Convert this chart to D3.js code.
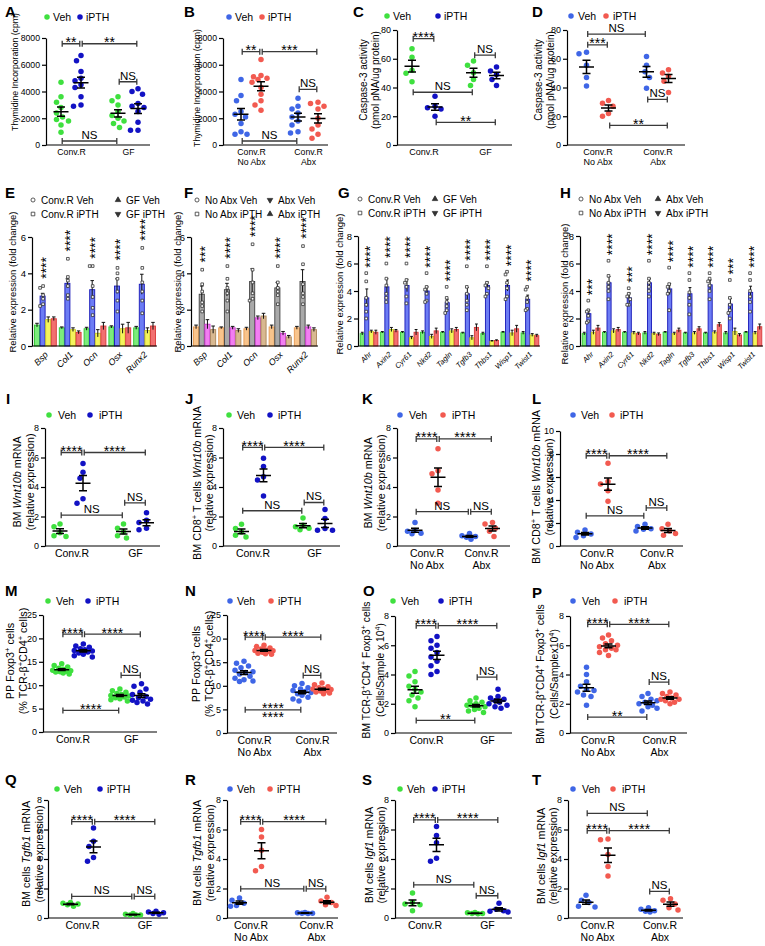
<!DOCTYPE html>
<html>
<head>
<meta charset="utf-8">
<script src="https://cdn.jsdelivr.net/npm/d3@7"></script>
<style>
  body { margin: 0; background: #fff; }
  svg text { font-family: "Liberation Sans", Arial, sans-serif; }
</style>
</head>
<body>
<svg id="fig" width="765" height="946"></svg>
<script>
const svg = d3.select("#fig");
const FONT = "'Liberation Sans', Arial, sans-serif";

const GREEN = "#3fe03f", NAVY = "#1212c4", BLUE = "#3f66e6", RED = "#f25a50";

const grpGF = ["Conv.R", "GF"];
const grpAbx = [["Conv.R", "No Abx"], ["Conv.R", "Abx"]];

// ---- dot plots: [Veh grp1, iPTH grp1, Veh grp2, iPTH grp2]
const A_vals = [
  [4700, 3600, 3200, 2800, 2400, 2100, 1900, 1800, 1500, 950],
  [6700, 6300, 5500, 5000, 4800, 4500, 4300, 3600, 3000, 2900],
  [3600, 3300, 3000, 2500, 2200, 2000, 1800, 1600, 1300],
  [4200, 4000, 3800, 3100, 2900, 2800, 2500, 1700, 1100, 1100]
];
const B_vals = [
  [4900, 3700, 3300, 2500, 2300, 2100, 1600, 1000, 800, 800],
  [6400, 5200, 5100, 5000, 4900, 4700, 4300, 3800, 3300, 3000, 2600],
  [3500, 2900, 2700, 2400, 2100, 1800, 1500, 1000, 900],
  [3200, 3100, 2900, 2700, 2000, 1500, 1200, 800, 500]
];
const C_vals = [[67, 61, 52, 50, 44], [34, 27, 26, 25, 20], [58.4, 55.4, 50.3, 45.6, 41.4], [54.2, 51.4, 49, 45.6, 41.4]];
const D_vals = [[64.5, 63.5, 55.5, 47, 41], [31, 29, 27, 22, 20], [61.5, 55.5, 51, 47, 39.5], [52.4, 50.1, 47.8, 44.4, 36.6]];
const I_vals = [[1.5, 1.3, 0.9, 0.7, 0.65], [5.6, 5.0, 4.6, 3.2, 2.9], [1.5, 1.2, 0.95, 0.7, 0.55], [2.25, 1.75, 1.6, 1.2, 1.1]];
const J_vals = [[1.48, 1.18, 0.95, 0.73, 0.61], [5.95, 5.39, 4.7, 4.48, 3.39], [1.9, 1.4, 1.3, 1.2, 1.1], [2.48, 1.86, 1.18, 1.07, 1.07]];
const K_vals = [[1.6, 1.05, 1.0, 0.87, 0.83], [6.6, 5.1, 4.9, 3.8, 2.9], [0.85, 0.7, 0.65, 0.6, 0.45], [1.6, 1.5, 1.2, 1.0, 0.65]];
const L_vals = [[1.4, 1.2, 1.05, 0.9, 0.75], [7.2, 5.6, 5.4, 4.8, 3.9], [1.9, 1.7, 1.5, 1.45, 1.3], [1.89, 1.51, 1.31, 1.08, 0.93]];
const M_vals = [
  [14.6, 14.2, 13.9, 13.6, 13.4, 13.2, 13.1, 13.0, 12.9, 12.8, 12.6, 12.4],
  [18.8, 18.4, 18.1, 17.8, 17.6, 17.4, 17.3, 17.1, 16.9, 16.6, 16.3, 16.0],
  [9.2, 8.8, 8.5, 8.2, 8.0, 7.8, 7.7, 7.5, 7.3, 7.1, 6.9, 6.6],
  [10.3, 9.8, 9.2, 8.5, 8.0, 7.6, 7.3, 7.0, 6.8, 6.6, 6.3, 6.0]
];
const N_vals = [
  [15.2, 14.8, 14.2, 13.8, 13.3, 13.0, 12.8, 12.5, 12.0, 11.6, 11.3, 11.0, 10.9],
  [18.6, 18.3, 18.0, 17.8, 17.6, 17.5, 17.4, 17.3, 17.1, 16.9, 16.8, 16.7],
  [10.5, 10.0, 9.6, 9.3, 9.0, 8.8, 8.6, 8.3, 8.0, 7.6, 7.2, 6.8],
  [10.6, 10.2, 9.8, 9.6, 9.4, 9.3, 9.2, 9.0, 8.9, 8.7, 8.5, 8.3]
];
const O_vals = [
  [4.2, 3.9, 3.5, 3.2, 3.0, 2.8, 2.6, 2.4, 2.2, 1.8],
  [6.6, 6.3, 6.0, 5.8, 5.5, 5.2, 4.9, 4.6, 4.2, 4.0],
  [2.4, 2.2, 2.1, 2.0, 1.9, 1.8, 1.7, 1.6, 1.5, 1.4, 1.9],
  [3.0, 2.5, 2.4, 2.3, 2.2, 2.1, 2.0, 1.9, 1.8, 1.7]
];
const P_vals = [
  [4.5, 4.0, 3.5, 3.2, 3.0, 2.9, 2.8, 2.6, 2.5, 1.9],
  [6.7, 6.5, 6.3, 6.1, 6.0, 5.9, 5.8, 5.7, 5.5, 5.3, 5.7],
  [2.7, 2.5, 2.3, 2.2, 2.1, 2.0, 1.9, 1.8, 1.7, 1.5],
  [2.8, 2.7, 2.6, 2.5, 2.4, 2.3, 2.3, 2.2, 2.1, 2.0]
];
const Q_vals = [[1.05, 1.0, 0.95, 0.9, 0.8], [6.1, 5.2, 4.85, 4.1, 3.85], [0.3, 0.25, 0.2, 0.2, 0.2], [0.45, 0.4, 0.35, 0.3, 0.25]];
const R_vals = [[1.35, 1.2, 1.0, 0.85, 0.8], [6.0, 5.5, 4.6, 3.5, 3.2], [0.38, 0.35, 0.33, 0.32, 0.3], [1.4, 1.15, 1.05, 0.9, 0.85]];
const S_vals = [[1.7, 1.05, 0.95, 0.9, 0.5], [6.2, 5.6, 5.1, 4.05, 3.85], [0.38, 0.35, 0.3, 0.3, 0.28], [1.0, 0.6, 0.5, 0.45, 0.4]];
const T_vals = [[1.55, 1.2, 1.05, 0.8, 0.75], [5.35, 5.3, 4.3, 3.5, 2.85], [0.7, 0.6, 0.5, 0.45, 0.4], [1.3, 1.2, 0.95, 0.7, 0.55]];

// significance brackets: [from group, to group, value, label, label below]
const A_sig = [[0, 1, 7570, "**"], [1, 3, 7570, "**"], [2, 3, 4730, "NS"], [0, 2, 300, "NS"]];
const B_sig = [[0, 1, 6975, "**"], [1, 3, 6975, "***"], [2, 3, 4160, "NS"], [0, 2, 300, "NS"]];
const C_sig = [[0, 1, 74, "****"], [2, 3, 62.5, "NS"], [0, 2, 36.7, "NS"], [1, 3, 15.8, "**"]];
const D_sig = [[0, 2, 77.2, "NS"], [0, 1, 69.7, "***"], [2, 3, 31.7, "NS"], [1, 3, 13.6, "**"]];
const I_sig = [[0, 1, 6.34, "****"], [1, 3, 6.34, "****"], [0, 2, 2.09, "NS"], [2, 3, 2.93, "NS"]];
const J_sig = [[0, 1, 6.68, "****"], [1, 3, 6.68, "****"], [0, 2, 2.39, "NS"], [2, 3, 2.95, "NS"]];
const K_sig = [[0, 1, 7.26, "****"], [1, 3, 7.26, "****"], [0, 2, 2.33, "NS"], [2, 3, 2.33, "NS"]];
const L_sig = [[0, 1, 7.85, "****"], [1, 3, 7.85, "****"], [0, 2, 2.62, "NS"], [2, 3, 3.31, "NS"]];
const M_sig = [[0, 1, 20.9, "****"], [1, 3, 20.9, "****"], [2, 3, 12.1, "NS"], [0, 2, 4.6, "****"]];
const N_sig = [[0, 1, 20.3, "****"], [1, 3, 20.3, "****"], [2, 3, 12.2, "NS"], [0, 2, 4.9, "****", "****"]];
const O_sig = [[0, 1, 7.34, "****"], [1, 3, 7.34, "****"], [2, 3, 3.82, "NS"], [0, 2, 0.86, "**"]];
const P_sig = [[0, 1, 7.43, "****"], [1, 3, 7.43, "****"], [2, 3, 3.48, "NS"], [0, 2, 1.09, "**"]];
const Q_sig = [[0, 1, 6.53, "****"], [1, 3, 6.53, "****"], [0, 2, 1.46, "NS"], [2, 3, 1.46, "NS"]];
const R_sig = [[0, 1, 6.53, "****"], [1, 3, 6.53, "****"], [0, 2, 1.98, "NS"], [2, 3, 1.98, "NS"]];
const S_sig = [[0, 1, 6.65, "****"], [1, 3, 6.65, "****"], [0, 2, 2.25, "NS"], [2, 3, 1.51, "NS"]];
const T_sig = [[0, 2, 7.1, "NS"], [0, 1, 5.92, "****"], [1, 3, 5.92, "****"], [2, 3, 1.8, "NS"]];

const ticksCpm = [0, 2000, 4000, 6000, 8000];
const ticks80 = [0, 20, 40, 60, 80];
const ticks8 = [0, 2, 4, 6, 8];
const ticks10 = [0, 2, 4, 6, 8, 10];
const ticks25 = [0, 5, 10, 15, 20, 25];

// ---- bar charts (E-H): per gene [grp1 Veh, grp1 iPTH, grp2 Veh, grp2 iPTH]
const boneGenes = ["Bsp", "Col1", "Ocn", "Osx", "Runx2"];
const wntGenes = ["Ahr", "Axin2", "Cyr61", "Nkd2", "Tagln", "Tgfb3", "Thbs1", "Wisp1", "Twist1"];

const E_mean = [[1.15, 2.75, 1.45, 1.5], [1.0, 3.45, 0.9, 0.75], [0.95, 3.1, 0.7, 1.1], [1.05, 3.3, 0.95, 1.0], [1.0, 3.4, 0.85, 1.1]];
const E_sem = [[0.1, 0.15, 0.15, 0.1], [0.05, 0.25, 0.1, 0.08], [0.08, 0.5, 0.2, 0.2], [0.06, 0.4, 0.25, 0.3], [0.08, 0.55, 0.15, 0.2]];
const E_pts = [[3.3, 3.2, 2.8, 2.6, 2.3, 2.2], [4.8, 3.8, 3.6, 3.3, 2.8, 2.6], [4.4, 4.4, 3.3, 2.7, 2.1, 1.7], [4.3, 4.0, 3.7, 3.0, 2.5, 1.9], [5.4, 4.3, 3.5, 3.0, 2.5, 1.8]];
const E_star = ["****", "****", "****", "****", "****"];

const F_mean = [[1.05, 2.85, 1.2, 0.9], [1.0, 3.1, 1.0, 0.85], [0.95, 3.55, 1.55, 1.65], [1.05, 3.2, 0.7, 0.5], [1.0, 3.55, 1.05, 0.9]];
const F_sem = [[0.1, 0.45, 0.25, 0.2], [0.05, 0.35, 0.08, 0.1], [0.08, 0.7, 0.1, 0.15], [0.1, 0.3, 0.1, 0.08], [0.08, 0.65, 0.1, 0.1]];
const F_pts = [[4.2, 3.4, 3.0, 2.4, 2.2, 1.9], [4.4, 3.7, 3.2, 2.9, 2.5, 1.9], [5.6, 4.2, 3.5, 2.9, 2.5, 2.6], [4.4, 3.5, 3.2, 3.0, 2.8, 2.3], [5.5, 4.5, 3.4, 2.9, 2.3, 2.7]];
const F_star = ["***", "****", "****", "****", "****"];

const G_mean = [[0.9, 3.5, 1.05, 1.0], [1.0, 4.3, 1.2, 1.1], [1.0, 4.4, 0.6, 1.0], [1.0, 4.0, 0.7, 1.1], [1.0, 3.15, 1.1, 1.2], [0.95, 3.8, 0.6, 1.35], [0.9, 4.4, 0.35, 0.4], [1.0, 4.4, 0.95, 1.25], [0.95, 3.4, 0.8, 0.75]];
const G_sem = [[0.1, 0.65, 0.1, 0.15], [0.05, 0.6, 0.15, 0.1], [0.05, 0.45, 0.1, 0.2], [0.1, 0.3, 0.15, 0.2], [0.05, 0.25, 0.15, 0.15], [0.05, 0.45, 0.15, 0.25], [0.1, 0.25, 0.05, 0.05], [0.05, 0.4, 0.2, 0.25], [0.1, 0.3, 0.1, 0.1]];
const G_pts = [[5.3, 4.7, 3.5, 3.0, 2.5, 2.0], [6.0, 4.9, 4.4, 3.8, 3.5, 3.2], [6.0, 4.8, 4.6, 4.3, 3.6, 3.1], [5.3, 4.3, 4.1, 3.8, 3.3, 3.2], [4.3, 3.5, 3.2, 2.9, 2.6, 2.4], [5.8, 4.3, 3.8, 3.3, 3.0, 2.6], [5.8, 4.6, 4.4, 4.2, 3.8, 3.6], [5.4, 5.2, 4.6, 4.2, 3.6, 3.4], [4.3, 4.1, 3.5, 3.2, 2.6, 2.7]];
const G_star = ["****", "****", "****", "****", "****", "****", "****", "****", "****"];

const H_mean = [[0.9, 2.35, 1.0, 1.3], [1.0, 4.6, 1.1, 1.2], [1.0, 3.5, 0.95, 0.9], [0.95, 4.6, 0.9, 0.85], [1.0, 4.15, 0.9, 1.15], [0.95, 3.8, 0.95, 1.25], [0.95, 4.45, 1.0, 1.55], [0.95, 3.05, 1.05, 0.8], [1.0, 3.9, 0.95, 1.4]];
const H_sem = [[0.1, 0.25, 0.15, 0.2], [0.05, 0.45, 0.15, 0.15], [0.05, 0.35, 0.1, 0.1], [0.1, 0.3, 0.1, 0.1], [0.05, 0.4, 0.1, 0.15], [0.05, 0.45, 0.1, 0.15], [0.05, 0.35, 0.1, 0.15], [0.1, 0.4, 0.25, 0.1], [0.05, 0.45, 0.1, 0.2]];
const H_pts = [[3.3, 2.6, 2.5, 2.2, 1.8, 1.7], [6.2, 5.1, 4.6, 4.3, 4.0, 3.4], [4.2, 3.8, 3.6, 3.4, 3.0, 3.0], [6.2, 4.9, 4.6, 4.3, 4.0, 3.6], [5.7, 4.5, 4.3, 4.0, 3.8, 2.6], [5.3, 4.8, 3.9, 3.5, 3.0, 2.3], [5.3, 4.9, 4.7, 4.4, 4.0, 3.4], [4.8, 3.5, 3.0, 2.6, 2.4, 2.0], [5.3, 4.8, 4.0, 3.6, 3.2, 2.5]];
const H_star = ["***", "****", "***", "****", "****", "****", "****", "***", "****"];

const barFillA = ["#7cec7c", "#6c7cf4", "#f4f45c", "#f27070"];
const barLineA = ["#2fc82f", "#1818b8", "#c8c820", "#d83838"];
const barFillB = ["#f8c48c", "#a9a9a9", "#f27ef2", "#d8b890"];
const barLineB = ["#e89a50", "#404040", "#c838c8", "#a88458"];

// ---- helpers
function richText(sel, str) {
  str.split(/(<i>.*?<\/i>|<sup>.*?<\/sup>)/).forEach(part => {
    if (!part) return;
    if (part.startsWith("<i>")) sel.append("tspan").attr("font-style", "italic").text(part.slice(3, -4));
    else if (part.startsWith("<sup>")) sel.append("tspan").attr("baseline-shift", "super").attr("font-size", "70%").text(part.slice(5, -6));
    else sel.append("tspan").text(part);
  });
}

function yTitle(g, lines, xs, cy, fs) {
  lines.forEach((ln, i) => {
    const t = g.append("text")
      .attr("transform", `translate(${xs[i]},${cy}) rotate(-90)`)
      .attr("text-anchor", "middle")
      .attr("dy", "0.35em")
      .attr("font-size", fs);
    richText(t, ln);
  });
}

function styleAxis(ax, fs) {
  ax.attr("font-family", FONT).attr("font-size", fs);
  ax.selectAll("path, line").attr("stroke", "#000").attr("stroke-width", 1.2);
  ax.selectAll("text").attr("fill", "#000");
}

// spread points sideways (capped at maxDx) so close values do not pile up
function swarm(vals, y, cx, maxDx, minD) {
  const placed = [];
  const cands = d3.range(-maxDx, maxDx + 0.01, 1.5).sort((a, b) => Math.abs(a) - Math.abs(b));
  vals.map(v => ({ v, y: y(v) })).sort((a, b) => a.y - b.y).forEach(p => {
    let best = 0, bestD = -1;
    for (const dx of cands) {
      const d = placed.length ? d3.min(placed, q => Math.hypot(q.x - cx - dx, q.y - p.y)) : Infinity;
      if (d >= minD) { best = dx; break; }
      if (d > bestD) { bestD = d; best = dx; }
    }
    p.x = cx + best;
    placed.push(p);
  });
  return placed;
}

function sigText(g, x, yy, lab, below) {
  const star = lab[0] === "*";
  g.append("text")
    .attr("x", x)
    .attr("y", star ? (below ? yy + 12.5 : yy + 3.5) : yy - 2)
    .attr("text-anchor", "middle")
    .attr("font-size", star ? 14 : 11.5)
    .text(lab);
}

function dotPanel(p) {
  const g = svg.append("g");
  const y = d3.scaleLinear().domain(p.dom).range([p.yb, p.yt]);
  const xc = d3.scalePoint().domain([0, 1]).range([p.c0, p.c1]);
  const xo = d3.scalePoint().domain([0, 1]).range([-p.off, p.off]);
  const gx = i => xc(i >> 1) + xo(i & 1);
  const r = 2.75;

  const ya = g.append("g").attr("transform", `translate(${p.x0},0)`)
    .call(d3.axisLeft(y).tickValues(p.ticks).tickFormat(d3.format("d")).tickSize(4).tickSizeOuter(0).tickPadding(2));
  styleAxis(ya, p.fs);

  g.append("line").attr("x1", p.x0).attr("x2", p.xEnd).attr("y1", p.yb).attr("y2", p.yb)
    .attr("stroke", "#000").attr("stroke-width", 1.2);

  const xa = g.append("g").attr("transform", `translate(0,${p.yb})`)
    .call(d3.axisBottom(xc).tickSize(0).tickPadding(4).tickFormat(() => ""));
  xa.select(".domain").remove();
  styleAxis(xa, p.lfs);
  xa.selectAll(".tick text").each(function (i) {
    const t = d3.select(this);
    [].concat(p.groups[i]).forEach((s, k) => t.append("tspan").attr("x", 0).attr("dy", k ? "1.12em" : "0.71em").text(s));
  });

  yTitle(g, p.title, p.tx, p.ty, p.tfs);

  p.vals.forEach((v, i) => {
    const col = p.cols[i & 1];
    g.append("g").selectAll("circle")
      .data(swarm(v, y, gx(i), 9, 6.5))
      .join("circle")
      .attr("cx", d => d.x).attr("cy", d => d.y).attr("r", r).attr("fill", col);
    const m = d3.mean(v), se = d3.deviation(v) / Math.sqrt(v.length);
    const cx = gx(i);
    g.append("path")
      .attr("d", `M${cx - 7.5},${y(m)}h15M${cx},${y(m - se)}V${y(m + se)}M${cx - 4},${y(m - se)}h8M${cx - 4},${y(m + se)}h8`)
      .attr("stroke", "#000").attr("stroke-width", 1.5).attr("fill", "none");
  });

  p.sig.forEach(([a, b, v, lab, lab2]) => {
    const xa0 = gx(a) + 1.2, xb0 = gx(b) - 1.2, yy = y(v);
    g.append("path")
      .attr("d", `M${xa0},${yy}H${xb0}M${xa0},${yy - 3}v6M${xb0},${yy - 3}v6`)
      .attr("stroke", "#3a3a3a").attr("stroke-width", 1.3).attr("fill", "none");
    sigText(g, (xa0 + xb0) / 2, yy, lab, false);
    if (lab2) sigText(g, (xa0 + xb0) / 2, yy, lab2, true);
  });

  ["Veh", "iPTH"].forEach((s, j) => {
    g.append("circle").attr("cx", p.leg[j]).attr("cy", p.leg[2]).attr("r", r).attr("fill", p.cols[j]);
    g.append("text").attr("x", p.leg[j] + p.lgap).attr("y", p.leg[2]).attr("dy", "0.35em")
      .attr("font-size", 10.5).text(s);
  });
}

const symType = { circle: d3.symbolCircle, square: d3.symbolSquare, tri: d3.symbolTriangle, tridown: d3.symbolTriangle };

function marker(g, kind, x, y, size) {
  g.append("path")
    .attr("d", d3.symbol().type(symType[kind]).size(size)())
    .attr("transform", `translate(${x},${y})${kind === "tridown" ? " rotate(180)" : ""}`)
    .attr("fill", kind === "circle" || kind === "square" ? "#fff" : "#333")
    .attr("stroke", "#333").attr("stroke-width", 0.8);
}

function barPanel(p) {
  const g = svg.append("g");
  const y = d3.scaleLinear().domain([0, p.max]).range([p.yb, p.yt]);
  const xg = d3.scaleBand().domain(p.genes).range([p.x0 + 1, p.xEnd]).paddingInner(0.12).paddingOuter(0.06);
  const xs = d3.scaleBand().domain([0, 1, 2, 3]).range([0, xg.bandwidth()]).paddingInner(0.1);
  const bw = xs.bandwidth();

  const ya = g.append("g").attr("transform", `translate(${p.x0},0)`)
    .call(d3.axisLeft(y).tickValues(p.ticks).tickFormat(d3.format("d")).tickSize(4).tickSizeOuter(0).tickPadding(2));
  styleAxis(ya, 9.5);

  yTitle(g, ["Relative expression (fold change)"], [p.tx], p.ty, 9.5);

  p.genes.forEach((gene, gi) => {
    p.mean[gi].forEach((m, k) => {
      const bx = xg(gene) + xs(k), se = p.sem[gi][k];
      g.append("rect").attr("x", bx).attr("y", y(m)).attr("width", bw).attr("height", p.yb - y(m))
        .attr("fill", p.fill[k]).attr("stroke", p.line[k]).attr("stroke-width", 0.9);
      g.append("path")
        .attr("d", `M${bx + bw / 2},${y(m - se)}V${y(m + se)}M${bx + bw * 0.15},${y(m + se)}H${bx + bw * 0.85}`)
        .attr("stroke", "#111").attr("stroke-width", 1);
    });
    const cx = xg(gene) + xs(1) + bw / 2;
    swarm(p.pts[gi], y, cx, bw / 2, 3.2).forEach(d => marker(g, "square", d.x, d.y, 7));
    const top = d3.max(p.pts[gi]) + 0.4;
    g.append("text")
      .attr("transform", `translate(${cx},${y(top)}) rotate(-90)`)
      .attr("dy", "0.57em")
      .attr("font-size", 14)
      .text(p.star[gi]);
  });

  g.append("line").attr("x1", p.x0).attr("x2", p.xEnd).attr("y1", p.yb).attr("y2", p.yb)
    .attr("stroke", "#000").attr("stroke-width", 1.2);

  const xa = g.append("g").attr("transform", `translate(0,${p.yb})`)
    .call(d3.axisBottom(xg).tickSize(0));
  xa.select(".domain").remove();
  styleAxis(xa, p.gfs);
  xa.selectAll(".tick text")
    .attr("x", 0).attr("y", 0).attr("dy", "0.35em")
    .attr("text-anchor", "end")
    .attr("font-style", "italic")
    .attr("transform", "translate(1,7) rotate(-45)");

  p.leg.forEach(([s, kind, lx, ly]) => {
    marker(g, kind, lx, ly, 13);
    g.append("text").attr("x", lx + 8).attr("y", ly).attr("dy", "0.35em").attr("font-size", 10).text(s);
  });
}

// ---- panels
const capTitle = ["Caspase-3 activity", "(pmol pNA/ug protein)"];
const relExp = "(relative expression)";
const treg = "BM TCR-β<sup>+</sup>CD4<sup>+</sup> Foxp3<sup>+</sup> cells";
const ppTitle = ["PP Foxp3<sup>+</sup> cells", "(% TCR-β<sup>+</sup>CD4<sup>+</sup> cells)"];

const dotPanels = [
  { vals: A_vals, sig: A_sig, dom: [0, 8000], ticks: ticksCpm, x0: 46, xEnd: 150, yt: 38, yb: 145, c0: 71, c1: 128, off: 10,
    groups: grpGF, cols: [GREEN, NAVY], title: ["Thymidine Incorporation (cpm)"], tx: [15], ty: 72, tfs: 8.7, fs: 8.7, lfs: 8.7, leg: [47, 80, 17], lgap: 6 },
  { vals: B_vals, sig: B_sig, dom: [0, 8000], ticks: ticksCpm, x0: 223, xEnd: 328, yt: 38, yb: 145, c0: 251, c1: 308, off: 10,
    groups: grpAbx, cols: [BLUE, RED], title: ["Thymidine Incorporation (cpm)"], tx: [197], ty: 88, tfs: 8.7, fs: 8.7, lfs: 8.7, leg: [229, 262, 17], lgap: 6 },
  { vals: C_vals, sig: C_sig, dom: [0, 80], ticks: ticks80, x0: 397, xEnd: 512, yt: 30, yb: 145, c0: 423.5, c1: 485, off: 11.5,
    groups: grpGF, cols: [GREEN, NAVY], title: capTitle, tx: [363, 375], ty: 80, tfs: 10, fs: 9, lfs: 9, leg: [387, 438, 16], lgap: 6 },
  { vals: D_vals, sig: D_sig, dom: [0, 80], ticks: ticks80, x0: 567, xEnd: 685, yt: 30, yb: 145, c0: 597.5, c1: 657.5, off: 11,
    groups: grpAbx, cols: [BLUE, RED], title: capTitle, tx: [538, 550], ty: 80, tfs: 10, fs: 9, lfs: 9, leg: [571, 606, 16], lgap: 7 },

  { vals: I_vals, sig: I_sig, dom: [0, 8], ticks: ticks8, x0: 45, xEnd: 160, yt: 428, yb: 546, c0: 71.5, c1: 135, off: 11.5,
    groups: grpGF, cols: [GREEN, NAVY], title: ["BM <i>Wnt10b</i> mRNA", relExp], tx: [17, 30], ty: 482, tfs: 10.8, fs: 9, lfs: 10.5, leg: [49, 90, 415], lgap: 9 },
  { vals: J_vals, sig: J_sig, dom: [0, 8], ticks: ticks8, x0: 223, xEnd: 340, yt: 428, yb: 546, c0: 252.5, c1: 314, off: 11,
    groups: grpGF, cols: [GREEN, NAVY], title: ["BM CD8<sup>+</sup> T cells <i>Wnt10b</i> mRNA", relExp], tx: [197, 209], ty: 483, tfs: 10.8, fs: 9, lfs: 10.5, leg: [229, 270, 415], lgap: 8 },
  { vals: K_vals, sig: K_sig, dom: [0, 8], ticks: ticks8, x0: 397, xEnd: 510, yt: 428, yb: 546, c0: 426.5, c1: 481, off: 11.5,
    groups: grpAbx, cols: [BLUE, RED], title: ["BM <i>Wnt10b</i> mRNA", relExp], tx: [368, 381], ty: 483, tfs: 10.8, fs: 9, lfs: 10.5, leg: [400, 443, 415], lgap: 9 },
  { vals: L_vals, sig: L_sig, dom: [0, 10], ticks: ticks10, x0: 560, xEnd: 683, yt: 431, yb: 546, c0: 596.5, c1: 656.5, off: 11.5,
    groups: grpAbx, cols: [BLUE, RED], title: ["BM CD8<sup>+</sup> T cells <i>Wnt10b</i> mRNA", relExp], tx: [536, 549], ty: 487, tfs: 10.8, fs: 9, lfs: 10.5, leg: [573, 612, 415], lgap: 8 },

  { vals: M_vals, sig: M_sig, dom: [0, 25], ticks: ticks25, x0: 43, xEnd: 157, yt: 615, yb: 732, c0: 72.5, c1: 130.7, off: 10.8,
    groups: grpGF, cols: [GREEN, NAVY], title: ppTitle, tx: [10, 23], ty: 661, tfs: 10.8, fs: 9, lfs: 10.5, leg: [48, 88, 601], lgap: 8 },
  { vals: N_vals, sig: N_sig, dom: [0, 25], ticks: ticks25, x0: 227, xEnd: 337, yt: 615, yb: 733, c0: 254, c1: 312, off: 10,
    groups: grpAbx, cols: [BLUE, RED], title: ppTitle, tx: [196, 209], ty: 664, tfs: 10.8, fs: 9, lfs: 10.5, leg: [230, 271, 601], lgap: 7 },
  { vals: O_vals, sig: O_sig, dom: [0, 8], ticks: ticks8, x0: 395, xEnd: 512, yt: 616, yb: 733, c0: 426, c1: 487, off: 11,
    groups: grpGF, cols: [GREEN, NAVY], title: [treg, "(Cells/Sample x 10<sup>4</sup>)"], tx: [366, 380], ty: 670, tfs: 10.3, fs: 9, lfs: 10.5, leg: [393, 441, 601], lgap: 8 },
  { vals: P_vals, sig: P_sig, dom: [0, 8], ticks: ticks8, x0: 570, xEnd: 687, yt: 616, yb: 733, c0: 597.5, c1: 659, off: 11,
    groups: grpAbx, cols: [BLUE, RED], title: [treg, "(Cells/Samplex10<sup>4</sup>)"], tx: [540, 554], ty: 674, tfs: 10.5, fs: 9, lfs: 10.5, leg: [573, 615, 601], lgap: 9 },

  { vals: Q_vals, sig: Q_sig, dom: [0, 8], ticks: ticks8, x0: 48, xEnd: 168, yt: 800, yb: 918, c0: 82, c1: 144.5, off: 11.5,
    groups: grpGF, cols: [GREEN, NAVY], title: ["BM cells <i>Tgfb1</i> mRNA", relExp], tx: [26, 39], ty: 854, tfs: 10.8, fs: 9, lfs: 10.5, leg: [57, 100, 789], lgap: 7 },
  { vals: R_vals, sig: R_sig, dom: [0, 8], ticks: ticks8, x0: 227, xEnd: 338, yt: 800, yb: 918, c0: 250.5, c1: 316, off: 11,
    groups: grpAbx, cols: [BLUE, RED], title: ["BM cells <i>Tgfb1</i> mRNA", relExp], tx: [197, 210], ty: 853, tfs: 10.8, fs: 9, lfs: 10.5, leg: [230, 270, 789], lgap: 7 },
  { vals: S_vals, sig: S_sig, dom: [0, 8], ticks: ticks8, x0: 395, xEnd: 512, yt: 800, yb: 918, c0: 424.5, c1: 487, off: 12,
    groups: grpGF, cols: [GREEN, NAVY], title: ["BM cells <i>Igf1</i> mRNA", relExp], tx: [369, 381], ty: 855, tfs: 10.8, fs: 9, lfs: 10.5, leg: [400, 435, 789], lgap: 7 },
  { vals: T_vals, sig: T_sig, dom: [0, 8], ticks: ticks8, x0: 568, xEnd: 683, yt: 800, yb: 918, c0: 597, c1: 659.5, off: 11,
    groups: grpAbx, cols: [BLUE, RED], title: ["BM cells <i>Igf1</i> mRNA", relExp], tx: [541, 553], ty: 856, tfs: 10.8, fs: 9, lfs: 10.5, leg: [573, 613, 789], lgap: 9 }
];

const barPanels = [
  { genes: boneGenes, mean: E_mean, sem: E_sem, pts: E_pts, star: E_star, max: 6, ticks: [0, 2, 4, 6],
    x0: 32, xEnd: 157, yt: 237, yb: 346, tx: 13, ty: 282, gfs: 9, fill: barFillA, line: barLineA,
    leg: [["Conv.R Veh", "circle", 33, 200], ["Conv.R iPTH", "square", 33, 214], ["GF Veh", "tri", 118, 200], ["GF iPTH", "tridown", 118, 214]] },
  { genes: boneGenes, mean: F_mean, sem: F_sem, pts: F_pts, star: F_star, max: 6, ticks: [0, 2, 4, 6],
    x0: 191, xEnd: 318, yt: 237, yb: 346, tx: 178, ty: 282, gfs: 9, fill: barFillB, line: barLineB,
    leg: [["No Abx Veh", "circle", 197, 200], ["No Abx iPTH", "square", 197, 214], ["Abx Veh", "tridown", 270, 200], ["Abx iPTH", "tri", 270, 214]] },
  { genes: wntGenes, mean: G_mean, sem: G_sem, pts: G_pts, star: G_star, max: 8, ticks: ticks8,
    x0: 358, xEnd: 540, yt: 236, yb: 346, tx: 340, ty: 284, gfs: 7.5, fill: barFillA, line: barLineA,
    leg: [["Conv.R Veh", "circle", 360, 199], ["Conv.R iPTH", "square", 360, 213], ["GF Veh", "tri", 435, 199], ["GF iPTH", "tridown", 435, 213]] },
  { genes: wntGenes, mean: H_mean, sem: H_sem, pts: H_pts, star: H_star, max: 8, ticks: ticks8,
    x0: 580, xEnd: 763, yt: 236, yb: 346, tx: 565, ty: 294, gfs: 7.5, fill: barFillA, line: barLineA,
    leg: [["No Abx Veh", "circle", 581, 199], ["No Abx iPTH", "square", 581, 213], ["Abx Veh", "tri", 658, 199], ["Abx iPTH", "tridown", 658, 213]] }
];

dotPanels.forEach(dotPanel);
barPanels.forEach(barPanel);

// panel letters
const letters = [
  ["A", 5, 17], ["B", 184, 17], ["C", 353, 17], ["D", 532, 17],
  ["E", 5, 198], ["F", 184, 198], ["G", 338, 198], ["H", 560, 198],
  ["I", 6, 404], ["J", 185, 404], ["K", 362, 404], ["L", 532, 404],
  ["M", 5, 596], ["N", 185, 596], ["O", 363, 596], ["P", 532, 598],
  ["Q", 5, 785], ["R", 185, 785], ["S", 362, 785], ["T", 532, 785]
];
svg.append("g").selectAll("text")
  .data(letters)
  .join("text")
  .attr("x", d => d[1]).attr("y", d => d[2])
  .attr("font-size", 15).attr("font-weight", "bold")
  .text(d => d[0]);
</script>
</body>
</html>
